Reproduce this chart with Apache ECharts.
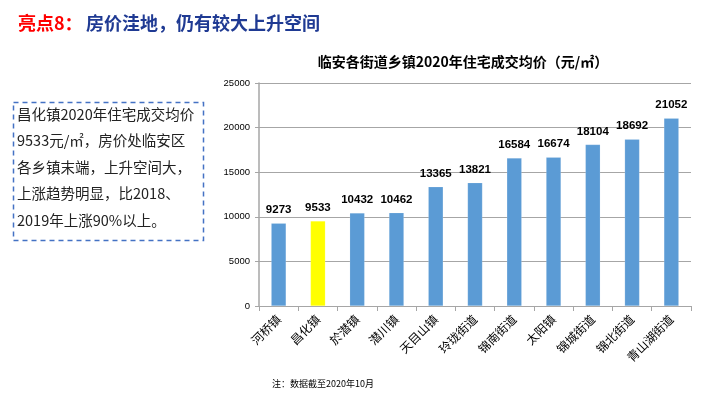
<!DOCTYPE html>
<html>
<head>
<meta charset="utf-8">
<script src="https://cdn.jsdelivr.net/npm/echarts@6/dist/echarts.min.js"></script>
<style>
html,body{margin:0;padding:0;background:#fff;}
#chart{width:719px;height:411px;}
</style>
</head>
<body>
<div id="chart"></div>
<script>
var categories = ['河桥镇','昌化镇','於潜镇','潜川镇','天目山镇','玲珑街道','锦南街道','太阳镇','锦城街道','锦北街道','青山湖街道'];
var prices = [9273, 9533, 10432, 10462, 13365, 13821, 16584, 16674, 18104, 18692, 21052];
var highlightCategory = '昌化镇';
var yTicks = [0, 5000, 10000, 15000, 20000, 25000];
var headerRed = '亮点8：';
var headerBlue = '房价洼地，仍有较大上升空间';
var chartTitle = '临安各街道乡镇2020年住宅成交均价（元/㎡）';
var boxLines = ['昌化镇2020年住宅成交均价','9533元/㎡，房价处临安区','各乡镇末端，上升空间大，','上涨趋势明显，比2018、','2019年上涨90%以上。'];
var noteText = '注：数据截至2020年10月';

var FONT = '"Noto Sans CJK SC", "Noto Sans", sans-serif';
var chart = echarts.init(document.getElementById('chart'));

var graphic = [
  { type: 'text', left: 18, top: 14, style: { text: headerRed, fill: '#ff0000', font: 'bold 18px ' + FONT } },
  { type: 'text', left: 86, top: 14, style: { text: headerBlue, fill: '#1f3a93', font: 'bold 18px ' + FONT } },
  { type: 'rect', shape: { x: 13.5, y: 102.5, width: 190, height: 138 },
    style: { fill: 'none', stroke: '#4472c4', lineWidth: 1.5, lineDash: [5, 4] } },
  { type: 'text', left: 272, top: 379, style: { text: noteText, fill: '#000', font: '9px ' + FONT } }
];
boxLines.forEach(function (t, i) {
  graphic.push({ type: 'text', left: 17, top: 107 + i * 26.5, style: { text: t, fill: '#222', font: '14.5px ' + FONT } });
});

chart.setOption({
  animation: false,
  title: {
    text: chartTitle, left: 458, top: 50, textAlign: 'center',
    textStyle: { fontFamily: FONT, fontSize: 14, fontWeight: 'bold', color: '#000' }
  },
  graphic: graphic,
  grid: { left: 259, right: 28, top: 83, bottom: 105 },
  xAxis: {
    type: 'category', data: categories,
    axisLine: { lineStyle: { color: '#a6a6a6', width: 1 } },
    axisTick: { show: true, alignWithLabel: false, length: 5, lineStyle: { color: '#a6a6a6' } },
    axisLabel: { rotate: 45, interval: 0, fontFamily: FONT, fontSize: 12, color: '#000', margin: 11 }
  },
  yAxis: {
    type: 'value', min: yTicks[0], max: yTicks[yTicks.length - 1], interval: yTicks[1] - yTicks[0],
    axisLine: { show: true, lineStyle: { color: '#a6a6a6', width: 1.5 } },
    axisTick: { show: true, inside: false, length: 4, lineStyle: { color: '#a6a6a6' } },
    splitLine: { lineStyle: { color: '#a6a6a6', width: 1 } },
    axisLabel: { fontFamily: 'Liberation Sans, Arial, sans-serif', fontSize: 9.5, color: '#000', margin: 9,
      formatter: function (v) { return String(v); } }
  },
  series: [{
    type: 'bar',
    data: prices.map(function (v, i) {
      return { value: v, itemStyle: { color: categories[i] === highlightCategory ? '#ffff00' : '#5b9bd5' } };
    }),
    barWidth: '38%',
    itemStyle: { borderColor: 'rgba(255,255,255,0.3)', borderWidth: 0.5 },
    label: { show: true, position: 'top', distance: 7, fontFamily: 'Liberation Sans, Arial, sans-serif', fontSize: 11.5, fontWeight: 'bold', color: '#000',
      formatter: function (p) { return String(p.value); } }
  }]
});
</script>
</body>
</html>
